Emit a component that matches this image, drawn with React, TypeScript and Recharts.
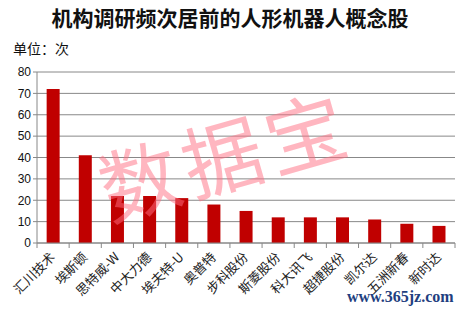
import React from 'react';
import { Bar, BarChart, CartesianGrid, XAxis, YAxis } from 'recharts';

const categories = [
  '汇川技术',
  '埃斯顿',
  '思特威-W',
  '中大力德',
  '埃夫特-U',
  '奥普特',
  '步科股份',
  '斯菱股份',
  '科大讯飞',
  '超捷股份',
  '凯尔达',
  '五洲新春',
  '新时达',
];
const counts = [72, 41, 22, 22, 21, 18, 15, 12, 12, 12, 11, 9, 8];
const yTicks = [0, 10, 20, 30, 40, 50, 60, 70, 80];

const data = categories.map((name, i) => ({ name, value: counts[i] }));

const W = 460;
const H = 309;
const LEFT = 37;
const RIGHT = 5;
const BAND = (W - LEFT - RIGHT) / categories.length;

const CategoryTick = (props: any) => {
  const { x, y, payload, index } = props;
  const isLast = index === categories.length - 1;
  return (
    <g>
      <line x1={x - BAND / 2} y1={y - 8} x2={x - BAND / 2} y2={y - 3} stroke="#888" />
      {isLast && (
        <line x1={x + BAND / 2} y1={y - 8} x2={x + BAND / 2} y2={y - 3} stroke="#888" />
      )}
      <text
        x={x + 3}
        y={y + 7}
        textAnchor="end"
        transform={`rotate(-45, ${x + 3}, ${y + 7})`}
        fontSize={13}
        fill="#222"
        fontFamily="'Noto Sans CJK SC', sans-serif"
      >
        {payload.value}
      </text>
    </g>
  );
};

export default function App() {
  return (
    <div
      style={{
        position: 'absolute',
        left: 0,
        top: 0,
        width: W,
        height: H,
        background: '#fff',
        overflow: 'hidden',
        fontFamily: "'Noto Sans CJK SC', sans-serif",
      }}
    >
      <div
        style={{
          position: 'absolute',
          left: 0,
          top: 2,
          width: W,
          textAlign: 'center',
          fontSize: 21,
          fontWeight: 700,
          color: '#111',
          lineHeight: '30px',
        }}
      >
        机构调研频次居前的人形机器人概念股
      </div>
      <div
        style={{
          position: 'absolute',
          left: 13,
          top: 38,
          fontSize: 14,
          color: '#111',
          lineHeight: '20px',
        }}
      >
        单位：次
      </div>
      <div style={{ position: 'absolute', left: 0, top: 0 }}>
        <BarChart
          width={W}
          height={H}
          data={data}
          margin={{ top: 72, right: RIGHT, bottom: 0, left: 0 }}
          barCategoryGap="30%"
        >
          <CartesianGrid vertical={false} stroke="#888" />
          <YAxis
            width={LEFT}
            domain={[0, 80]}
            ticks={yTicks}
            interval={0}
            axisLine={{ stroke: '#888' }}
            tickLine={{ stroke: '#888' }}
            tickSize={4}
            tick={{ fontSize: 12, fill: '#111', fontFamily: 'Arial, Liberation Sans, sans-serif' }}
          />
          <XAxis
            dataKey="name"
            height={66}
            interval={0}
            axisLine={{ stroke: '#888' }}
            tickLine={false}
            tick={<CategoryTick />}
          />
          <Bar dataKey="value" fill="#c00000" isAnimationActive={false} />
        </BarChart>
      </div>
      <div
        style={{
          position: 'absolute',
          left: 224,
          top: 152,
          transform: 'translate(-50%, -50%) rotate(-16deg)',
          fontSize: 80,
          letterSpacing: 6,
          whiteSpace: 'nowrap',
          color: 'rgba(255, 110, 130, 0.5)',
          lineHeight: '90px',
          pointerEvents: 'none',
        }}
      >
        数据宝
      </div>
      <div
        style={{
          position: 'absolute',
          left: 347,
          top: 287,
          fontSize: 16,
          fontWeight: 700,
          color: '#1f3f80',
          fontFamily: "'Liberation Serif', serif",
          lineHeight: '20px',
          pointerEvents: 'none',
        }}
      >
        www.365jz.com
      </div>
    </div>
  );
}
